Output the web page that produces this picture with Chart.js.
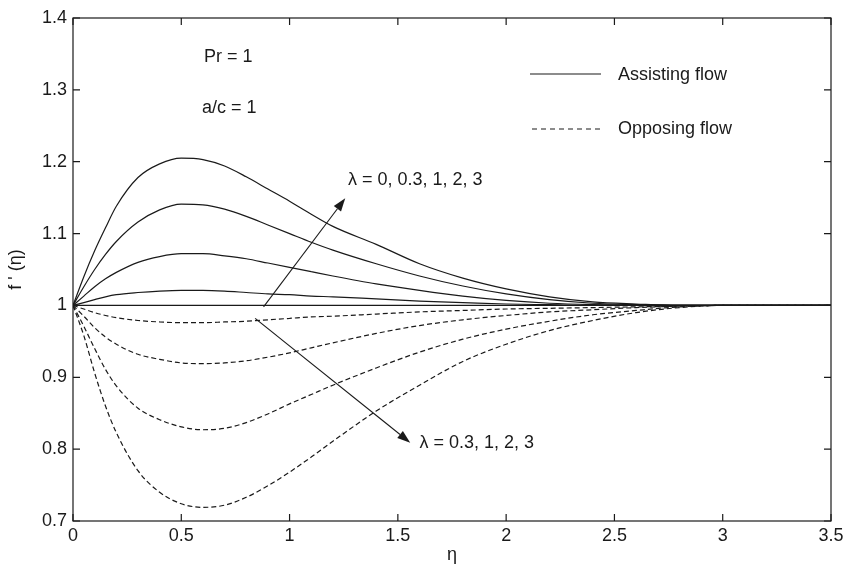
<!DOCTYPE html>
<html>
<head>
<meta charset="utf-8">
<script src="https://cdn.jsdelivr.net/npm/chart.js@4.4.1/dist/chart.umd.min.js"></script>
<style>
  html, body { margin: 0; padding: 0; background: #fff; }
  #wrap { width: 846px; height: 568px; position: relative; }
</style>
</head>
<body>
<div id="wrap"><canvas id="chart"></canvas></div>
<script>
// eta positions the curves were read at
const eta = [0, 0.05, 0.1, 0.15, 0.2, 0.3, 0.4, 0.5, 0.6, 0.7, 0.8, 0.9, 1.0, 1.1, 1.2, 1.4, 1.6, 1.8, 2.0, 2.2, 2.4, 2.6, 2.8, 3.0, 3.5];

// assisting flow (solid), lambda = 0, 0.3, 1, 2, 3
const assist0  = [1, 1, 1, 1, 1, 1, 1, 1, 1, 1, 1, 1, 1, 1, 1, 1, 1, 1, 1, 1, 1, 1, 1, 1, 1];
const assist03 = [1.0, 1.004, 1.008, 1.012, 1.015, 1.018, 1.020, 1.021, 1.021, 1.020, 1.018, 1.016, 1.015, 1.013, 1.012, 1.009, 1.006, 1.004, 1.002, 1.001, 1.0, 1.0, 1.0, 1.0, 1.0];
const assist1  = [1.0, 1.013, 1.026, 1.037, 1.046, 1.060, 1.068, 1.072, 1.072, 1.069, 1.065, 1.059, 1.053, 1.047, 1.041, 1.030, 1.021, 1.013, 1.007, 1.003, 1.001, 1.0, 1.0, 1.0, 1.0];
const assist2  = [1.0, 1.026, 1.050, 1.071, 1.089, 1.116, 1.133, 1.141, 1.140, 1.134, 1.124, 1.112, 1.100, 1.088, 1.077, 1.058, 1.041, 1.027, 1.016, 1.008, 1.003, 1.001, 1.0, 1.0, 1.0];
const assist3  = [1.0, 1.040, 1.076, 1.108, 1.138, 1.178, 1.197, 1.205, 1.203, 1.194, 1.179, 1.162, 1.145, 1.127, 1.110, 1.085, 1.058, 1.038, 1.023, 1.012, 1.005, 1.002, 1.0, 1.0, 1.0];

// opposing flow (dashed), lambda = 0.3, 1, 2, 3
const oppose03 = [1.0, 0.995, 0.990, 0.986, 0.983, 0.979, 0.977, 0.976, 0.976, 0.977, 0.978, 0.980, 0.982, 0.984, 0.985, 0.988, 0.991, 0.993, 0.995, 0.996, 0.997, 0.998, 0.999, 1.0, 1.0];
const oppose1  = [1.0, 0.985, 0.969, 0.956, 0.946, 0.932, 0.925, 0.920, 0.919, 0.920, 0.923, 0.928, 0.934, 0.941, 0.948, 0.961, 0.972, 0.980, 0.986, 0.991, 0.994, 0.997, 0.999, 1.0, 1.0];
const oppose2  = [1.0, 0.971, 0.940, 0.911, 0.888, 0.857, 0.841, 0.831, 0.827, 0.829, 0.837, 0.849, 0.863, 0.876, 0.889, 0.913, 0.935, 0.953, 0.967, 0.978, 0.987, 0.993, 0.998, 1.0, 1.0];
const oppose3  = [1.0, 0.958, 0.906, 0.860, 0.823, 0.770, 0.740, 0.724, 0.719, 0.722, 0.733, 0.749, 0.768, 0.789, 0.811, 0.853, 0.889, 0.922, 0.946, 0.965, 0.979, 0.990, 0.997, 1.0, 1.0];

const xTicks = [0, 0.5, 1, 1.5, 2, 2.5, 3, 3.5];
const yTicks = [0.7, 0.8, 0.9, 1, 1.1, 1.2, 1.3, 1.4];
const xTickLabels = ['0', '0.5', '1', '1.5', '2', '2.5', '3', '3.5'];
const yTickLabels = ['0.7', '0.8', '0.9', '1', '1.1', '1.2', '1.3', '1.4'];

const FONT = '18px "Liberation Sans", Arial, sans-serif';
const INK = '#1a1a1a';

function pts(ys) {
  return eta.map((x, i) => ({ x: x, y: ys[i] }));
}
function line(ys, dashed) {
  return {
    data: pts(ys),
    borderColor: INK,
    borderWidth: 1.2,
    borderDash: dashed ? [5, 3] : [],
    pointRadius: 0,
    fill: false,
    cubicInterpolationMode: 'monotone'
  };
}

const datasets = [
  line(assist0, false), line(assist03, false), line(assist1, false), line(assist2, false), line(assist3, false),
  line(oppose03, true), line(oppose1, true), line(oppose2, true), line(oppose3, true)
];

function arrow(ctx, x1, y1, x2, y2) {
  const a = Math.atan2(y2 - y1, x2 - x1);
  const len = 13, w = 4.5;
  ctx.beginPath();
  ctx.moveTo(x1, y1);
  ctx.lineTo(x2 - len * Math.cos(a), y2 - len * Math.sin(a));
  ctx.stroke();
  ctx.beginPath();
  ctx.moveTo(x2, y2);
  ctx.lineTo(x2 - len * Math.cos(a) + w * Math.sin(a), y2 - len * Math.sin(a) - w * Math.cos(a));
  ctx.lineTo(x2 - len * Math.cos(a) - w * Math.sin(a), y2 - len * Math.sin(a) + w * Math.cos(a));
  ctx.closePath();
  ctx.fill();
}

// frame, inward ticks, notes, legend and axis titles
const decor = {
  id: 'decor',
  afterDatasetsDraw(chart) {
    const ctx = chart.ctx;
    const a = chart.chartArea;
    const xs = chart.scales.x, ys = chart.scales.y;
    const px = v => xs.getPixelForValue(v);
    const py = v => ys.getPixelForValue(v);
    ctx.save();
    ctx.strokeStyle = INK;
    ctx.fillStyle = INK;
    ctx.lineWidth = 1.2;
    ctx.setLineDash([]);
    ctx.strokeRect(a.left, a.top, a.right - a.left, a.bottom - a.top);
    const t = 7;
    ctx.beginPath();
    xs.ticks.forEach(tk => {
      const x = px(tk.value);
      ctx.moveTo(x, a.bottom); ctx.lineTo(x, a.bottom - t);
      ctx.moveTo(x, a.top); ctx.lineTo(x, a.top + t);
    });
    ys.ticks.forEach(tk => {
      const y = py(tk.value);
      ctx.moveTo(a.left, y); ctx.lineTo(a.left + t, y);
      ctx.moveTo(a.right, y); ctx.lineTo(a.right - t, y);
    });
    ctx.stroke();

    // arrows
    ctx.lineWidth = 1.1;
    arrow(ctx, px(0.88), py(0.998), px(1.257), py(1.149));
    arrow(ctx, px(0.841), py(0.982), px(1.557), py(0.809));

    ctx.font = FONT;
    ctx.textBaseline = 'middle';
    ctx.textAlign = 'left';
    ctx.fillText('\u03bb = 0, 0.3, 1, 2, 3', px(1.27), py(1.175));
    ctx.fillText('\u03bb = 0.3, 1, 2, 3', px(1.6), py(0.808));
    ctx.fillText('Pr = 1', px(0.605), py(1.346));
    ctx.fillText('a/c = 1', px(0.596), py(1.275));

    // legend
    ctx.lineWidth = 1.2;
    ctx.beginPath();
    ctx.moveTo(530, 74); ctx.lineTo(601, 74);
    ctx.stroke();
    ctx.setLineDash([5, 4]);
    ctx.beginPath();
    ctx.moveTo(532, 129); ctx.lineTo(601, 129);
    ctx.stroke();
    ctx.setLineDash([]);
    ctx.fillText('Assisting flow', 618, 75);
    ctx.fillText('Opposing flow', 618, 129);

    // axis titles
    ctx.textAlign = 'center';
    ctx.fillText('\u03b7', (a.left + a.right) / 2, 555);
    ctx.translate(16, (a.top + a.bottom) / 2);
    ctx.rotate(-Math.PI / 2);
    ctx.fillText("f ' (\u03b7)", 0, 0);
    ctx.restore();
  }
};

const ctx = document.getElementById('chart').getContext('2d');
const chart = new Chart(ctx, {
  type: 'scatter',
  data: { datasets: datasets.map(d => Object.assign({ showLine: true }, d)) },
  options: {
    responsive: true,
    maintainAspectRatio: false,
    animation: false,
    layout: { padding: { top: 18, right: 15, left: 0, bottom: 0 } },
    plugins: { legend: { display: false }, tooltip: { enabled: false } },
    scales: {
      x: {
        type: 'linear',
        min: 0, max: 3.5,
        afterBuildTicks: s => { s.ticks = xTicks.map(v => ({ value: v })); },
        afterFit: s => { s.height = 47; s.paddingLeft = 0; s.paddingRight = 0; },
        grid: { display: false, drawTicks: false },
        border: { display: false },
        ticks: {
          color: INK, padding: 4, maxRotation: 0, autoSkip: false,
          font: { family: '"Liberation Sans", Arial, sans-serif', size: 18 },
          callback: (v, i) => xTickLabels[i]
        }
      },
      y: {
        type: 'linear',
        min: 0.7, max: 1.4,
        afterBuildTicks: s => { s.ticks = yTicks.map(v => ({ value: v })); },
        afterFit: s => { s.width = 73; s.paddingTop = 0; s.paddingBottom = 0; },
        grid: { display: false, drawTicks: false },
        border: { display: false },
        ticks: {
          color: INK, padding: 6, autoSkip: false,
          font: { family: '"Liberation Sans", Arial, sans-serif', size: 18 },
          callback: (v, i) => yTickLabels[i]
        }
      }
    }
  },
  plugins: [decor]
});
</script>
</body>
</html>
